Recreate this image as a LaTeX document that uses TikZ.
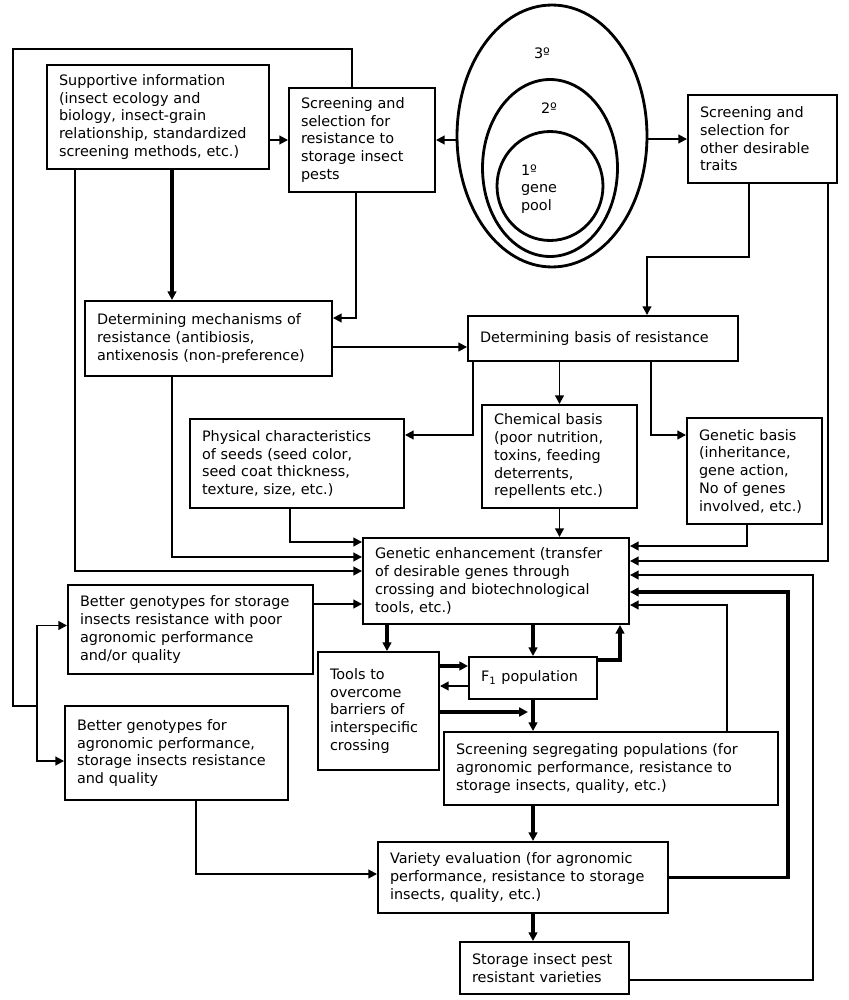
\documentclass[tikz,border=0pt]{standalone}
\usepackage{fontspec}
\setmainfont{DejaVu Sans}
\usetikzlibrary{arrows.meta,shapes.geometric,calc}
\tikzset{
    box/.style = {
        draw,
        line width=1.1pt,
        align=left,
        inner xsep=0.24cm,
        font=\fontsize{8.2}{10.1}\selectfont,
        },
    pool/.style = {
        draw,
        ellipse,
        inner sep=0pt,
        line width=1.6pt,
        },
    pool label/.style = {
        align=left,
        inner sep=0pt,
        font=\fontsize{8.2}{10.1}\selectfont,
        },
    link/.style = {
        line width=1.1pt,
        },
    arrow/.style = {
        link,
        -{Triangle[length=5pt,width=5pt]},
        },
    heavy/.style = {
        line width=2pt,
        },
}
\begin{document}
\begin{tikzpicture}[x=0.02cm,y=-0.02cm]
        \useasboundingbox (0,0) rectangle (848,1000);

        % gene pools
        \node[pool, minimum width=3.8cm, minimum height=5.24cm] (pool3) at (552,136) {};
        \node[pool, minimum width=2.7cm, minimum height=3.54cm] (pool2) at (550,168) {};
        \node[pool, minimum width=2.12cm, minimum height=2.18cm] (pool1) at (550,186) {};
        \node[pool label] (lab3) at (542,53) {3º};
        \node[pool label] (lab2) at (549,108) {2º};
        \node[pool label] (lab1) at (539,189) {1º\\gene\\pool};

        % boxes
        \node[box, text width=3.96cm, minimum height=2.08cm] (supp) at (158,117) {Supportive information\\(insect ecology and\\biology, insect-grain\\relationship, standardized\\screening methods, etc.)};
        \node[box, text width=2.44cm, minimum height=2.08cm] (scrL) at (362,140) {Screening and\\selection for\\resistance to\\storage insect\\pests};
        \node[box, text width=2.50cm, minimum height=1.76cm] (scrR) at (762.5,139) {Screening and\\selection for\\other desirable\\traits};
        \node[box, text width=4.46cm, minimum height=1.5cm] (detmech) at (208.5,338.5) {Determining mechanisms of\\resistance (antibiosis,\\antixenosis (non-preference)};
        \node[box, text width=4.92cm, minimum height=0.9cm] (detbasis) at (603,338.5) {Determining basis of resistance};
        \node[box, text width=3.80cm, minimum height=1.78cm] (physical) at (297,463.5) {Physical characteristics\\of seeds (seed color,\\seed coat thickness,\\texture, size, etc.)};
        \node[box, text width=2.62cm, minimum height=2.06cm] (chemical) at (559.5,456.5) {Chemical basis\\(poor nutrition,\\toxins, feeding\\deterrents,\\repellents etc.)};
        \node[box, text width=2.22cm, minimum height=2.12cm] (genbasis) at (754.5,471) {Genetic basis\\(inheritance,\\gene action,\\No of genes\\involved, etc.)};
        \node[box, text width=4.84cm, minimum height=1.72cm] (genenh) at (496,581) {Genetic enhancement (transfer\\of desirable genes through\\crossing and biotechnological\\tools, etc.)};
        \node[box, text width=4.42cm, minimum height=1.78cm] (better1) at (190.5,629.5) {Better genotypes for storage\\insects resistance with poor\\agronomic performance\\and/or quality};
        \node[box, text width=3.98cm, minimum height=1.88cm] (better2) at (176.5,753) {Better genotypes for\\agronomic performance,\\storage insects resistance\\and quality};
        \node[box, text width=1.94cm, minimum height=2.36cm] (tools) at (378.5,711) {Tools to\\overcome\\barriers of\\interspecific\\crossing};
        \node[box, text width=2.08cm, minimum height=0.84cm] (f1) at (533,678) {F\textsubscript{1} population};
        \node[box, text width=6.20cm, minimum height=1.46cm] (scrseg) at (611,768.5) {Screening segregating populations (for\\agronomic performance, resistance to\\storage insects, quality, etc.)};
        \node[box, text width=5.32cm, minimum height=1.42cm] (vareval) at (523,877.5) {Variety evaluation (for agronomic\\performance, resistance to storage\\insects, quality, etc.)};
        \node[box, text width=2.90cm, minimum height=1.04cm] (storage) at (544.5,968) {Storage insect pest\\resistant varieties};

        % bends
        \coordinate (loopA) at (352,49);
        \coordinate (loopB) at (13,49);
        \coordinate (loopC) at (13,706);
        \coordinate (split) at (37,706);
        \coordinate (b1) at (75,571);
        \coordinate (b2) at (356,318);
        \coordinate (b3) at (0,347);
        \coordinate (b4a) at (749,257);
        \coordinate (b4) at (647,257);
        \coordinate (b5) at (828,561);
        \coordinate (b6) at (172,557);
        \coordinate (b7) at (473,435);
        \coordinate (b8) at (651,435);
        \coordinate (b9) at (290,542);
        \coordinate (b10) at (747,546);
        \coordinate (b11) at (0,604);
        \coordinate (b12) at (387,0);
        \coordinate (b13) at (620,660);
        \coordinate (b14) at (0,666);
        \coordinate (b15) at (0,686);
        \coordinate (b16) at (528,712);
        \coordinate (b17) at (727,605);
        \coordinate (b19) at (788,592);
        \coordinate (b20) at (813,575);
        \coordinate (b20b) at (0,980);
        \coordinate (b21) at (196,874);

        % top part
        \draw[link] (scrL.north -| loopA) -- (loopA) -- (loopB) -- (loopC) -- (split);
        \draw[arrow] (split) |- ($(better1.west)+(0,-4)$);
        \draw[arrow] (split) |- ($(better2.west)+(0,8)$);
        \draw[arrow] (supp.east |- scrL.west) -- (scrL.west);
        \draw[arrow] (pool3.west |- scrL.east) -- (scrL.east);
        \draw[arrow] (pool3.east |- scrR.west) -- (scrR.west);
        \draw[arrow, heavy] (supp.south -| b6) -- (detmech.north -| b6);
        \draw[arrow] (supp.south -| b1) |- (genenh.west |- b1);
        \draw[arrow] (scrL.south -| b2) |- (detmech.east |- b2);
        \draw[arrow] (detmech.east |- b3) -- (detbasis.west |- b3);
        \draw[arrow] (scrR.south -| b4a) -- (b4a) -- (b4) -- (detbasis.north -| b4);
        \draw[arrow] (scrR.south -| b5) |- (genenh.east |- b5);

        % basis of resistance
        \draw[arrow] (detmech.south -| b6) |- (genenh.west |- b6);
        \draw[arrow] (detbasis.south -| b7) |- (physical.east |- b7);
        \draw[arrow] (detbasis.south -| chemical.north) -- (chemical.north);
        \draw[arrow] (detbasis.south -| b8) |- (genbasis.west |- b8);
        \draw[arrow] (physical.south -| b9) |- (genenh.west |- b9);
        \draw[arrow] (chemical.south) -- (chemical.south |- genenh.north);
        \draw[arrow] (genbasis.south -| b10) |- (genenh.east |- b10);
        \draw[arrow] (better1.east |- b11) -- (genenh.west |- b11);

        % breeding
        \draw[arrow, heavy] (genenh.south -| b12) -- (tools.north -| b12);
        \draw[arrow, heavy] (genenh.south -| f1.north) -- (f1.north);
        \draw[arrow, heavy] (f1.east |- b13) -| (genenh.south -| b13);
        \draw[arrow, heavy] (tools.east |- b14) -- (f1.west |- b14);
        \draw[arrow] (f1.west |- b15) -- (tools.east |- b15);
        \draw[arrow, heavy] (tools.east |- b16) -- (b16);
        \draw[arrow, heavy] (f1.south) -- (f1.south |- scrseg.north);
        \draw[arrow] (scrseg.north -| b17) |- (genenh.east |- b17);
        \draw[arrow, heavy] (scrseg.south -| f1.south) -- (vareval.north -| f1.south);
        \draw[arrow, heavy] (vareval.south -| f1.south) -- (storage.north -| f1.south);
        \draw[arrow, heavy] (vareval.east) -| (b19) -- (genenh.east |- b19);
        \draw[arrow] (storage.east |- b20b) -| (b20) -- (genenh.east |- b20);
        \draw[arrow] (better2.south -| b21) |- (vareval.west |- b21);
\end{tikzpicture}
\end{document}
